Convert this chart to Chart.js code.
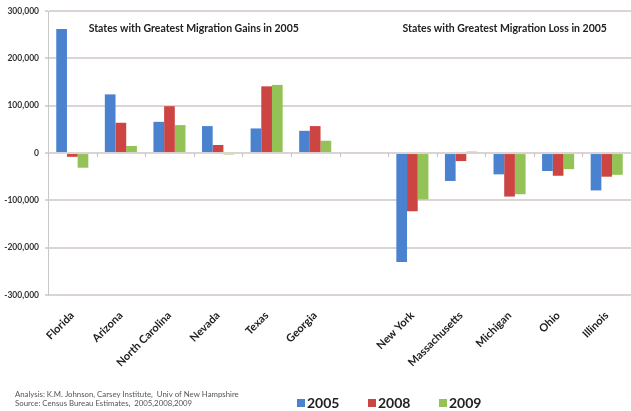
<!DOCTYPE html>
<html>
<head>
<meta charset="utf-8">
<script src="https://cdn.jsdelivr.net/npm/chart.js@4"></script>
<style>
  html, body { margin: 0; padding: 0; background: #fff; }
  #wrap { width: 631px; height: 411px; }
</style>
</head>
<body>
<div id="wrap"><canvas id="chart" width="631" height="411"></canvas></div>
<script>
// ── Data (net domestic migration)
const categories = ['Florida', 'Arizona', 'North Carolina', 'Nevada', 'Texas', 'Georgia', '',
                    'New York', 'Massachusetts', 'Michigan', 'Ohio', 'Illinois'];
const years   = ['2005', '2008', '2009'];
const mig2005 = [262000, 124000,  66000,  57000,  52000, 47000, null, -230000, -59000, -45000, -38000, -79000];
const mig2008 = [ -8000,  64000,  99000,  17000, 141000, 57000, null, -123000, -17000, -92000, -48000, -50000];
const mig2009 = [-31000,  15000,  59000,  -3000, 144000, 26000, null,  -98000,   3000, -87000, -34000, -46000];
const yTicks  = [300000, 200000, 100000, 0, -100000, -200000, -300000];
const panelTitles = ['States with Greatest Migration Gains in 2005', 'States with Greatest Migration Loss in 2005'];
const notes = ['Analysis: K.M. Johnson, Carsey Institute,  Univ of New Hampshire',
               'Source: Census Bureau Estimates,  2005,2008,2009'];

const colors = ['#4a82d0', '#cc4543', '#93c257'];

// ── Extra annotations: zero-line ticks, panel titles, notes, legend
const extras = {
  id: 'extras',
  afterDraw(chart) {
    const { ctx, chartArea, scales: { x, y } } = chart;
    ctx.save();

    const y0 = y.getPixelForValue(0);
    ctx.strokeStyle = '#c9c1c1';
    ctx.lineWidth = 1;
    for (let i = 0; i <= categories.length; i++) {
      const px = Math.round(x.getPixelForValue(i - 0.5)) + 0.5;
      ctx.beginPath();
      ctx.moveTo(px, y0);
      ctx.lineTo(px, y0 + 4);
      ctx.stroke();
    }

    ctx.fillStyle = '#222';
    ctx.font = 'bold 10.5px Lato';
    ctx.textAlign = 'center';
    ctx.textBaseline = 'middle';
    ctx.fillText(panelTitles[0], x.getPixelForValue(2.5), chartArea.top + 18);
    ctx.fillText(panelTitles[1], x.getPixelForValue(8.9), chartArea.top + 18);

    ctx.fillStyle = '#555';
    ctx.font = '7.8px Lato';
    ctx.textAlign = 'left';
    ctx.fillText(notes[0], 15, 394);
    ctx.fillText(notes[1], 15, 403);

    ctx.font = 'bold 14px Lato';
    ctx.textBaseline = 'middle';
    chart.data.datasets.forEach((ds, i) => {
      const lx = 297 + i * 71;
      ctx.fillStyle = ds.backgroundColor;
      ctx.fillRect(lx, 399, 8, 8);
      ctx.fillStyle = '#222';
      ctx.fillText(ds.label, lx + 10, 403);
    });

    ctx.restore();
  }
};

new Chart(document.getElementById('chart'), {
  type: 'bar',
  data: {
    labels: categories,
    datasets: [
      { label: years[0], data: mig2005, backgroundColor: colors[0] },
      { label: years[1], data: mig2008, backgroundColor: colors[1] },
      { label: years[2], data: mig2009, backgroundColor: colors[2] },
    ]
  },
  options: {
    responsive: false,
    animation: false,
    devicePixelRatio: 1,
    categoryPercentage: 0.66,
    barPercentage: 1.0,
    layout: { padding: { top: 5, right: -4, bottom: 0, left: 0 } },
    plugins: {
      legend: { display: false },
      tooltip: { enabled: false },
    },
    scales: {
      x: {
        grid: { display: false },
        border: { display: false },
        ticks: {
          autoSkip: false,
          minRotation: 45,
          maxRotation: 45,
          padding: 6,
          color: '#222',
          font: { family: 'Lato', size: 11, weight: 'bold' },
        },
        afterFit: (s) => { s.height = 116; },
      },
      y: {
        min: -300000,
        max: 300000,
        afterBuildTicks: (s) => { s.ticks = yTicks.map(v => ({ value: v })); },
        grid: { color: '#dcd4d4', lineWidth: 2, tickLength: 3 },
        border: { display: true, color: '#c8c8c8', width: 1 },
        ticks: {
          padding: 6,
          color: '#333',
          font: { family: 'Lato', size: 8.5, weight: 'bold' },
          callback: (v) => v.toLocaleString('en-US'),
        },
        afterFit: (s) => { s.width = 48; },
      }
    }
  },
  plugins: [extras]
});
</script>
</body>
</html>
